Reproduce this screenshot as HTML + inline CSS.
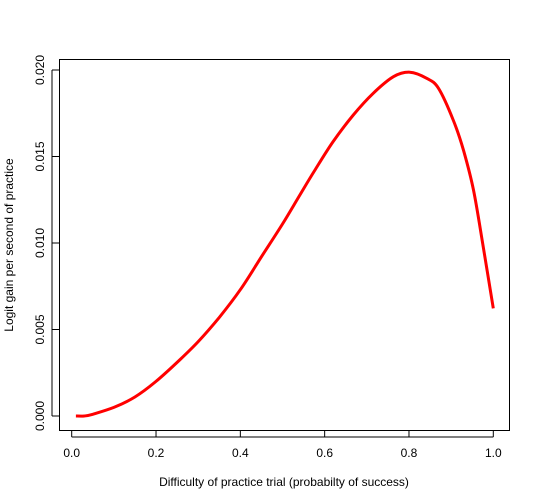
<!DOCTYPE html>
<html><head><meta charset="utf-8"><style>body{margin:0;background:#fff}svg{display:block;font-family:"Liberation Sans",Arial,sans-serif}</style></head>
<body>
<svg id="chart" width="540" height="504" viewBox="0 0 540 504">
<rect x="59.5" y="59.5" width="450" height="371" fill="none" stroke="#000" stroke-width="1"/>
<g id="axes"></g>
<path id="curve" fill="none" stroke="#f00" stroke-width="3" stroke-linejoin="round"/>
<text x="284" y="486" font-size="12" text-anchor="middle">Difficulty of practice trial (probabilty of success)</text>
<text transform="translate(13,245) rotate(-90)" font-size="12" text-anchor="middle">Logit gain per second of practice</text>
</svg>
<script>
const xs=[0.01,0.03,0.05,0.1,0.15,0.2,0.25,0.3,0.35,0.4,0.45,0.5,0.541,0.577,0.62,0.668,0.715,0.763,0.802,0.842,0.87,0.905,0.929,0.953,0.976,1.0];
const ys=[0,0,0.0001,0.0005,0.0011,0.0020,0.0031,0.0043,0.0057,0.0073,0.0092,0.0111,0.01277,0.01422,0.01586,0.0174,0.01865,0.01961,0.01987,0.01952,0.01894,0.01711,0.01538,0.01306,0.00979,0.00622];
const xTicks=[0,0.2,0.4,0.6,0.8,1.0];
const xTickLabels=["0.0","0.2","0.4","0.6","0.8","1.0"];
const yTicks=[0,0.005,0.01,0.015,0.02];
const yTickLabels=["0.000","0.005","0.010","0.015","0.020"];
const X=v=>71.7+v*421.6;
const Y=v=>416-v*17300;
const ns="http://www.w3.org/2000/svg";
const g=document.getElementById('axes');
xTicks.forEach((t,i)=>{
  const l=document.createElementNS(ns,'line');
  
  
  l.setAttribute('x1',X(t));l.setAttribute('x2',X(t));l.setAttribute('y1',430);l.setAttribute('y2',437);l.setAttribute('stroke','#000');g.appendChild(l);
  const tx=document.createElementNS(ns,'text');
  
  
  tx.setAttribute('x',X(t));tx.setAttribute('y',457);tx.setAttribute('font-size','12');tx.setAttribute('text-anchor','middle');tx.textContent=xTickLabels[i];g.appendChild(tx);
});
const ax=document.createElementNS(ns,'line');


ax.setAttribute('x1',X(0));ax.setAttribute('x2',X(1));ax.setAttribute('y1',437);ax.setAttribute('y2',437);ax.setAttribute('stroke','#000');g.appendChild(ax);
yTicks.forEach((t,i)=>{
  const l=document.createElementNS(ns,'line');
  
  
  l.setAttribute('x1',52);l.setAttribute('x2',59);l.setAttribute('y1',Y(t));l.setAttribute('y2',Y(t));l.setAttribute('stroke','#000');g.appendChild(l);
  const tx=document.createElementNS(ns,'text');
  
  
  tx.setAttribute('transform','translate(44,'+Y(t)+') rotate(-90)');tx.setAttribute('font-size','12');tx.setAttribute('text-anchor','middle');tx.textContent=yTickLabels[i];g.appendChild(tx);
});
const ay=document.createElementNS(ns,'line');


ay.setAttribute('x1',52);ay.setAttribute('x2',52);ay.setAttribute('y1',Y(0));ay.setAttribute('y2',Y(0.02));ay.setAttribute('stroke','#000');g.appendChild(ay);
const P=xs.map((x,i)=>[X(x),Y(ys[i])]);
let d='M'+P[0][0].toFixed(1)+','+P[0][1].toFixed(1);
for(let i=0;i<P.length-1;i++){
  const p0=P[i-1]||P[i],p1=P[i],p2=P[i+1],p3=P[i+2]||P[i+1];
  const c1=[p1[0]+(p2[0]-p0[0])/6,p1[1]+(p2[1]-p0[1])/6];
  const c2=[p2[0]-(p3[0]-p1[0])/6,p2[1]-(p3[1]-p1[1])/6];
  d+='C'+c1.map(v=>v.toFixed(1)).join(',')+' '+c2.map(v=>v.toFixed(1)).join(',')+' '+p2.map(v=>v.toFixed(1)).join(',');
}
document.getElementById('curve').setAttribute('d',d);
</script>
</body></html>
